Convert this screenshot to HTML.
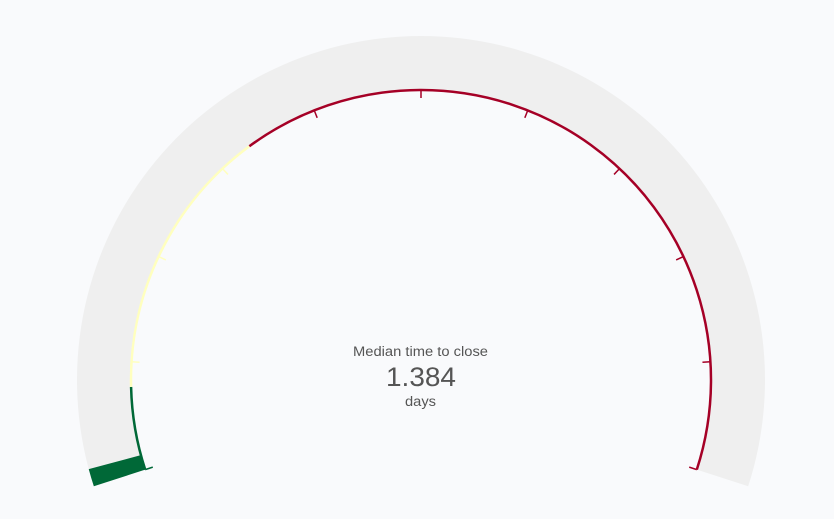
<!DOCTYPE html>
<html><head><meta charset="utf-8"><style>
html,body{margin:0;padding:0;background:#f9fafc;}
svg{display:block;font-family:"Liberation Sans",sans-serif;}
</style></head><body>
<svg id="g" width="834" height="519" viewBox="0 0 834 519">
<rect width="834" height="519" fill="#f9fafc"/>
<g id="marks"></g>
<text x="420.5" y="356" text-anchor="middle" font-size="13.5" fill="#555" textLength="135" lengthAdjust="spacingAndGlyphs">Median time to close</text>
<text x="421" y="386" text-anchor="middle" font-size="27" fill="#555" textLength="70" lengthAdjust="spacingAndGlyphs">1.384</text>
<text x="420.5" y="406" text-anchor="middle" font-size="13.5" fill="#555" textLength="31" lengthAdjust="spacingAndGlyphs">days</text>
</svg>
<script>
const gaugeValue = [1.384];
const scaleRange = [0, 100];
const tickValues = [0,10,20,30,40,50,60,70,80,90,100];
const bandStops = [7.7, 33.2, 100];
const bandColors = ['#006837','#ffffbf','#a50026'];

const CX=421, CY=380, RO=344, RI=290, A0=198, A1=-18;
const NS='http://www.w3.org/2000/svg';
const marks=document.getElementById('marks');
function ang(v){return A0-(A0-A1)*(v-scaleRange[0])/(scaleRange[1]-scaleRange[0]);}
function pt(a,r){const t=a*Math.PI/180;return [CX+r*Math.cos(t),CY-r*Math.sin(t)];}
function arcPath(a0,a1,r){const p=pt(a0,r),q=pt(a1,r);const large=Math.abs(a0-a1)>180?1:0;return `M${p[0]},${p[1]} A${r},${r} 0 ${large} 1 ${q[0]},${q[1]}`;}
function ring(a0,a1,ri,ro){const p1=pt(a0,ro),p2=pt(a1,ro),p3=pt(a1,ri),p4=pt(a0,ri);const l=Math.abs(a0-a1)>180?1:0;
 return `M${p1[0]},${p1[1]} A${ro},${ro} 0 ${l} 1 ${p2[0]},${p2[1]} L${p3[0]},${p3[1]} A${ri},${ri} 0 ${l} 0 ${p4[0]},${p4[1]} Z`;}
function mk(tag,attrs){const e=document.createElementNS(NS,tag);for(const k in attrs)e.setAttribute(k,attrs[k]);marks.appendChild(e);return e;}

let e=mk('path',{d:ring(A0,A1,RI,RO),fill:'#efefef'});



e=mk('path',{d:ring(A0,ang(gaugeValue[0]),RI,RO),fill:'#006837'});



let prev=scaleRange[0];
bandStops.forEach((s,i)=>{
 const b=mk('path',{d:arcPath(ang(prev),ang(s),RI),fill:'none',stroke:bandColors[i],'stroke-width':2.5});
 
 
 prev=s;
});
function bandColor(v){for(let i=0;i<bandStops.length;i++)if(v<=bandStops[i])return bandColors[i];return bandColors[bandColors.length-1];}
tickValues.forEach(v=>{
 const a=ang(v),p=pt(a,RI),q=pt(a,RI-8);
 const t=mk('line',{x1:p[0],y1:p[1],x2:q[0],y2:q[1],stroke:bandColor(v),'stroke-width':1.5});
 
 
});
</script>
</body></html>
